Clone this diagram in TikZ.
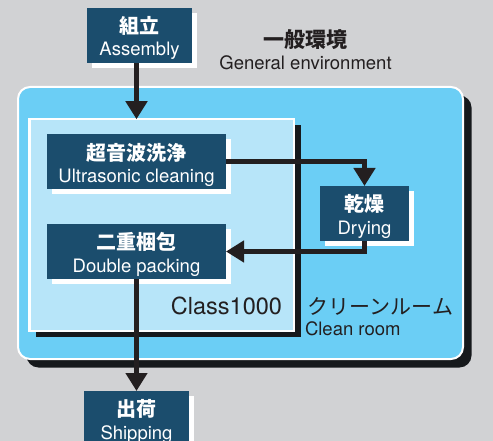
\documentclass[tikz,border=0pt]{standalone}
\usepackage{fontspec}
\setmainfont{TeX Gyre Heros}
\newfontfamily\jp{Noto Sans CJK JP}
\usetikzlibrary{arrows.meta,shadows,calc}
\definecolor{bg}{HTML}{D1D2D4}
\definecolor{boxc}{HTML}{1B4D6D}
\definecolor{outerc}{HTML}{6BCEF5}
\definecolor{innerc}{HTML}{B7E5F9}
\definecolor{ink}{HTML}{231F20}
\definecolor{shad}{HTML}{16191C}
\begin{document}
\begin{tikzpicture}[x=1pt,y=-1pt,
  every node/.style={inner sep=0pt, outer sep=0pt},
  stepbox/.style={fill=boxc, minimum height=55pt, minimum width=#1,
    drop shadow={shadow xshift=5pt, shadow yshift=-5pt, fill=white, opacity=1}},
  jpt/.style={text=white, font=\jp\bfseries\fontsize{20}{24}\selectfont},
  ent/.style={text=white, font=\fontsize{18.5}{22}\selectfont, anchor=base},
  inktext/.style={text=ink},
  arr/.style={draw=ink, line width=5pt, -{Triangle[width=21pt,length=18pt]}},
]
\useasboundingbox (0,0) rectangle (493,441);
\clip (0,0) rectangle (493,441);
\fill[bg] (0,0) rectangle (493,441);

% rooms
\node[fill=outerc, draw=white, line width=2pt, rounded corners=12pt,
  minimum width=445pt, minimum height=272pt,
  drop shadow={shadow xshift=8.5pt, shadow yshift=-8.5pt, fill=shad, opacity=1}]
  (outer) at (240.5,223) {};
\node[fill=innerc, draw=white, line width=2.5pt,
  minimum width=264.5pt, minimum height=211.5pt,
  drop shadow={shadow xshift=7pt, shadow yshift=-6pt, fill=shad, opacity=1}]
  (inner) at (161.5,225) {};

% process boxes
\node[stepbox=105pt] (asm) at (139.5,35.5) {};
\node[stepbox=179pt] (ultra) at (136.5,161.5) {};
\node[stepbox=89pt] (dry) at (364.5,213.5) {};
\node[stepbox=179pt] (pack) at (136.5,251.5) {};
\node[stepbox=105pt] (ship) at (136.5,418.5) {};

% connectors
\draw[arr] ([xshift=-3pt]asm.south) -- ([xshift=-3pt]asm.south |- inner.north);
\draw[arr] (ultra.east) -| (dry.north);
\draw[arr] (dry.south) |- (pack.east);
\draw[arr] (pack.south) -- (ship.north);

% box texts
\node[jpt] (asmjp) at ($(asm.north)+(0,18)$) {組立};
\node[ent] (asmen) at ($(asm.north)+(0,48)$) {Assembly};
\node[jpt] (ultrajp) at ($(ultra.north)+(0,18.5)$) {超音波洗浄};
\node[ent] (ultraen) at ($(ultra.north)+(0,48.5)$) {Ultrasonic cleaning};
\node[jpt] (dryjp) at ($(dry.north)+(0,18)$) {乾燥};
\node[ent] (dryen) at ($(dry.north)+(0,48)$) {Drying};
\node[jpt] (packjp) at ($(pack.north)+(0,18.3)$) {二重梱包};
\node[ent] (packen) at ($(pack.north)+(0,48)$) {Double packing};
\node[jpt] (shipjp) at ($(ship.north)+(0,18)$) {出荷};
\node[ent] (shipen) at ($(ship.north)+(0,48)$) {Shipping};

% other labels
\node[inktext, font=\jp\bfseries\fontsize{21}{25}\selectfont] (genjp) at (305.5,40) {一般環境};
\node[inktext, font=\fontsize{18.5}{22}\selectfont, anchor=base] (genen) at (305.5,70) {General environment};
\node[inktext, font=\fontsize{23.5}{28}\selectfont, anchor=base east] (cls) at (282,314.3) {Class1000};
\node[inktext, font=\jp\fontsize{21}{25}\selectfont] (crjp) at (380.5,306) {クリーンルーム};
\node[inktext, font=\fontsize{18.5}{22}\selectfont, anchor=base west] (cren) at (305,335) {Clean room};
\end{tikzpicture}
\end{document}
